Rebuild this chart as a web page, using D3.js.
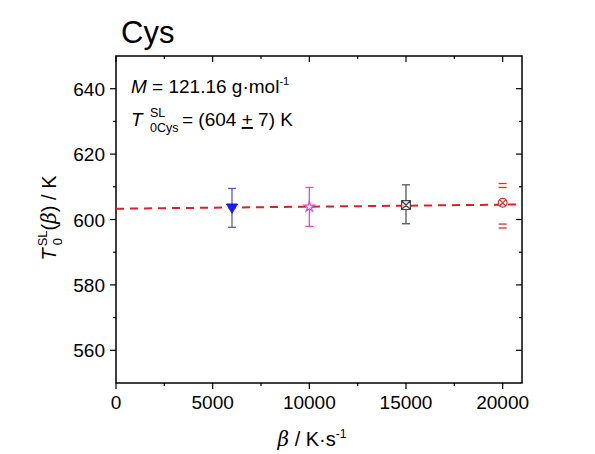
<!DOCTYPE html>
<html>
<head>
<meta charset="utf-8">
<script src="https://cdn.jsdelivr.net/npm/d3@7"></script>
<style>
  body { margin: 0; background: #fff; }
  svg { font-family: "Liberation Sans", Arial, sans-serif; }
</style>
</head>
<body>
<svg id="chart"></svg>
<script>
// data
const heatingRates = [6000, 10000, 15000, 20000];
const onsetTemps = [603.4, 603.9, 604.4, 605.1];
const errUpper = [[609.5], [609.8], [610.6], [611.0, 609.8]];
const errLower = [[597.6], [597.9], [598.7], [598.6, 597.4]];
const markerKinds = ["triDown", "star", "hourglass", "circleX"];
const markerColors = ["#1a1aff", "#d94fd9", "#444444", "#d93030"];
const barColors = ["#5a5ac8", "#d94fd9", "#555555", "#d93030"];
const fitLine = [[0, 603.3], [21000, 604.6]];
const xTicks = [0, 5000, 10000, 15000, 20000];
const yTicks = [560, 580, 600, 620, 640];

const width = 595, height = 454;
const margin = { top: 56, right: 73, bottom: 71, left: 116 };
const innerW = width - margin.left - margin.right;
const innerH = height - margin.top - margin.bottom;

const svg = d3.select("#chart").attr("width", width).attr("height", height);
const g = svg.append("g").attr("transform", `translate(${margin.left}, ${margin.top})`);

const x = d3.scaleLinear().domain([0, 21000]).range([0, innerW]);
const y = d3.scaleLinear().domain([550, 650]).range([innerH, 0]);

const minorX = d3.range(2500, 21000, 5000);
const minorY = d3.range(570, 650, 20);

// frame
g.append("rect")
  .attr("width", innerW).attr("height", innerH)
  .attr("fill", "none").attr("stroke", "#000").attr("stroke-width", 1.5);

function tickLines(sel, vals, scale, orient, len) {
  vals.forEach((v) => {
    const p = scale(v);
    if (orient === "bottom") sel.append("line").attr("x1", p).attr("x2", p).attr("y1", innerH).attr("y2", innerH + len);
    if (orient === "top") sel.append("line").attr("x1", p).attr("x2", p).attr("y1", 0).attr("y2", len);
    if (orient === "left") sel.append("line").attr("y1", p).attr("y2", p).attr("x1", 0).attr("x2", -len);
    if (orient === "right") sel.append("line").attr("y1", p).attr("y2", p).attr("x1", innerW).attr("x2", innerW - len);
  });
}
const ticks = g.append("g").attr("stroke", "#000").attr("stroke-width", 1.2);
tickLines(ticks, xTicks, x, "bottom", 6);
tickLines(ticks, minorX, x, "bottom", 3);
tickLines(ticks, xTicks, x, "top", 6);
tickLines(ticks, minorX, x, "top", 3);
tickLines(ticks, yTicks, y, "left", 6);
tickLines(ticks, minorY, y, "left", 3);
tickLines(ticks, yTicks, y, "right", 6);
tickLines(ticks, minorY, y, "right", 3);

// tick labels
g.append("g").selectAll("text").data(xTicks).join("text")
  .attr("x", (d) => x(d)).attr("y", innerH + 26)
  .attr("text-anchor", "middle").attr("font-size", 19).text((d) => d);
g.append("g").selectAll("text").data(yTicks).join("text")
  .attr("x", -11).attr("y", (d) => y(d) + 7)
  .attr("text-anchor", "end").attr("font-size", 19).text((d) => d);

// fit line
g.append("path")
  .datum(fitLine)
  .attr("d", d3.line().x((d) => x(d[0])).y((d) => y(d[1])))
  .attr("fill", "none").attr("stroke", "#e02020").attr("stroke-width", 2)
  .attr("stroke-dasharray", "8,6");

// error bars
heatingRates.forEach((r, i) => {
  const px = x(r);
  const eb = g.append("g").attr("stroke", barColors[i]).attr("stroke-width", 1.3);
  if (i < 3) {
    eb.append("line").attr("x1", px).attr("x2", px)
      .attr("y1", y(errUpper[i][0])).attr("y2", y(errLower[i][0]));
  }
  errUpper[i].concat(errLower[i]).forEach((v) => {
    eb.append("line").attr("x1", px - 4).attr("x2", px + 4).attr("y1", y(v)).attr("y2", y(v));
  });
});

// markers
function markerPath(kind, s) {
  const p = d3.path();
  if (kind === "triDown") {
    p.moveTo(-s, -s * 0.8); p.lineTo(s, -s * 0.8); p.lineTo(0, s * 0.9); p.closePath();
  } else if (kind === "hourglass") {
    p.rect(-s * 0.8, -s * 0.8, s * 1.6, s * 1.6);
    p.moveTo(-s * 0.8, -s * 0.8); p.lineTo(s * 0.8, s * 0.8);
    p.moveTo(s * 0.8, -s * 0.8); p.lineTo(-s * 0.8, s * 0.8);
  } else if (kind === "circleX") {
    p.arc(0, 0, s * 0.8, 0, 2 * Math.PI);
    const k = s * 0.57;
    p.moveTo(-k, -k); p.lineTo(k, k);
    p.moveTo(k, -k); p.lineTo(-k, k);
  }
  return p.toString();
}
heatingRates.forEach((r, i) => {
  const mg = g.append("g").attr("transform", `translate(${x(r)}, ${y(onsetTemps[i])})`);
  if (markerKinds[i] === "star") {
    mg.append("path").attr("d", d3.symbol(d3.symbolStar, 32)())
      .attr("fill", "#fff").attr("stroke", markerColors[i]).attr("stroke-width", 1.3);
  } else if (markerKinds[i] === "triDown") {
    mg.append("path").attr("d", markerPath("triDown", 5.5))
      .attr("fill", markerColors[i]).attr("stroke", markerColors[i]);
  } else {
    mg.append("path").attr("d", markerPath(markerKinds[i], 5.5))
      .attr("fill", "#fff").attr("fill-opacity", 0.8)
      .attr("stroke", markerColors[i]).attr("stroke-width", 1.2);
  }
});

// title
svg.append("text").attr("x", 121).attr("y", 43).attr("font-size", 31).text("Cys");

// annotations
const ann1 = svg.append("text").attr("x", 131).attr("y", 93).attr("font-size", 19);
ann1.append("tspan").attr("font-style", "italic").text("M");
ann1.append("tspan").text(" = 121.16 g·mol");
ann1.append("tspan").attr("font-size", 11).attr("dy", -8).text("-1");

const ann2 = svg.append("g");
ann2.append("text").attr("x", 131).attr("y", 126).attr("font-size", 19)
  .attr("font-style", "italic").text("T");
ann2.append("text").attr("x", 150).attr("y", 117).attr("font-size", 12.5).text("SL");
ann2.append("text").attr("x", 150).attr("y", 132).attr("font-size", 12.5).text("0Cys");
const ann2b = ann2.append("text").attr("x", 182).attr("y", 126).attr("font-size", 19);
ann2b.append("tspan").text("= (604 ");
ann2b.append("tspan").attr("text-decoration", "underline").text("+");
ann2b.append("tspan").text(" 7) K");

// x label
const xl = svg.append("text").attr("x", 312).attr("y", 446).attr("text-anchor", "middle").attr("font-size", 20);
xl.append("tspan").attr("font-family", "'DejaVu Serif', serif").attr("font-style", "italic").text("β");
xl.append("tspan").text(" / K·s");
xl.append("tspan").attr("font-size", 12).attr("dy", -8).text("-1");

// y label
const yl = svg.append("g").attr("transform", "translate(56, 218) rotate(-90)");
const ylt = yl.append("text").attr("text-anchor", "middle").attr("font-size", 20);
ylt.append("tspan").attr("font-style", "italic").text("T");
ylt.append("tspan").attr("font-size", 13).attr("dx", 2).attr("dy", -9).text("SL");
ylt.append("tspan").attr("font-size", 20).attr("dy", 9).text("(");
ylt.append("tspan").attr("font-family", "'DejaVu Serif', serif").attr("font-style", "italic").text("β");
ylt.append("tspan").text(") / K");
// subscript 0 under SL
const slStart = ylt.node().getStartPositionOfChar(1);
yl.append("text").attr("font-size", 13).attr("x", slStart.x + 1).attr("y", 6).text("0");
</script>
</body>
</html>
